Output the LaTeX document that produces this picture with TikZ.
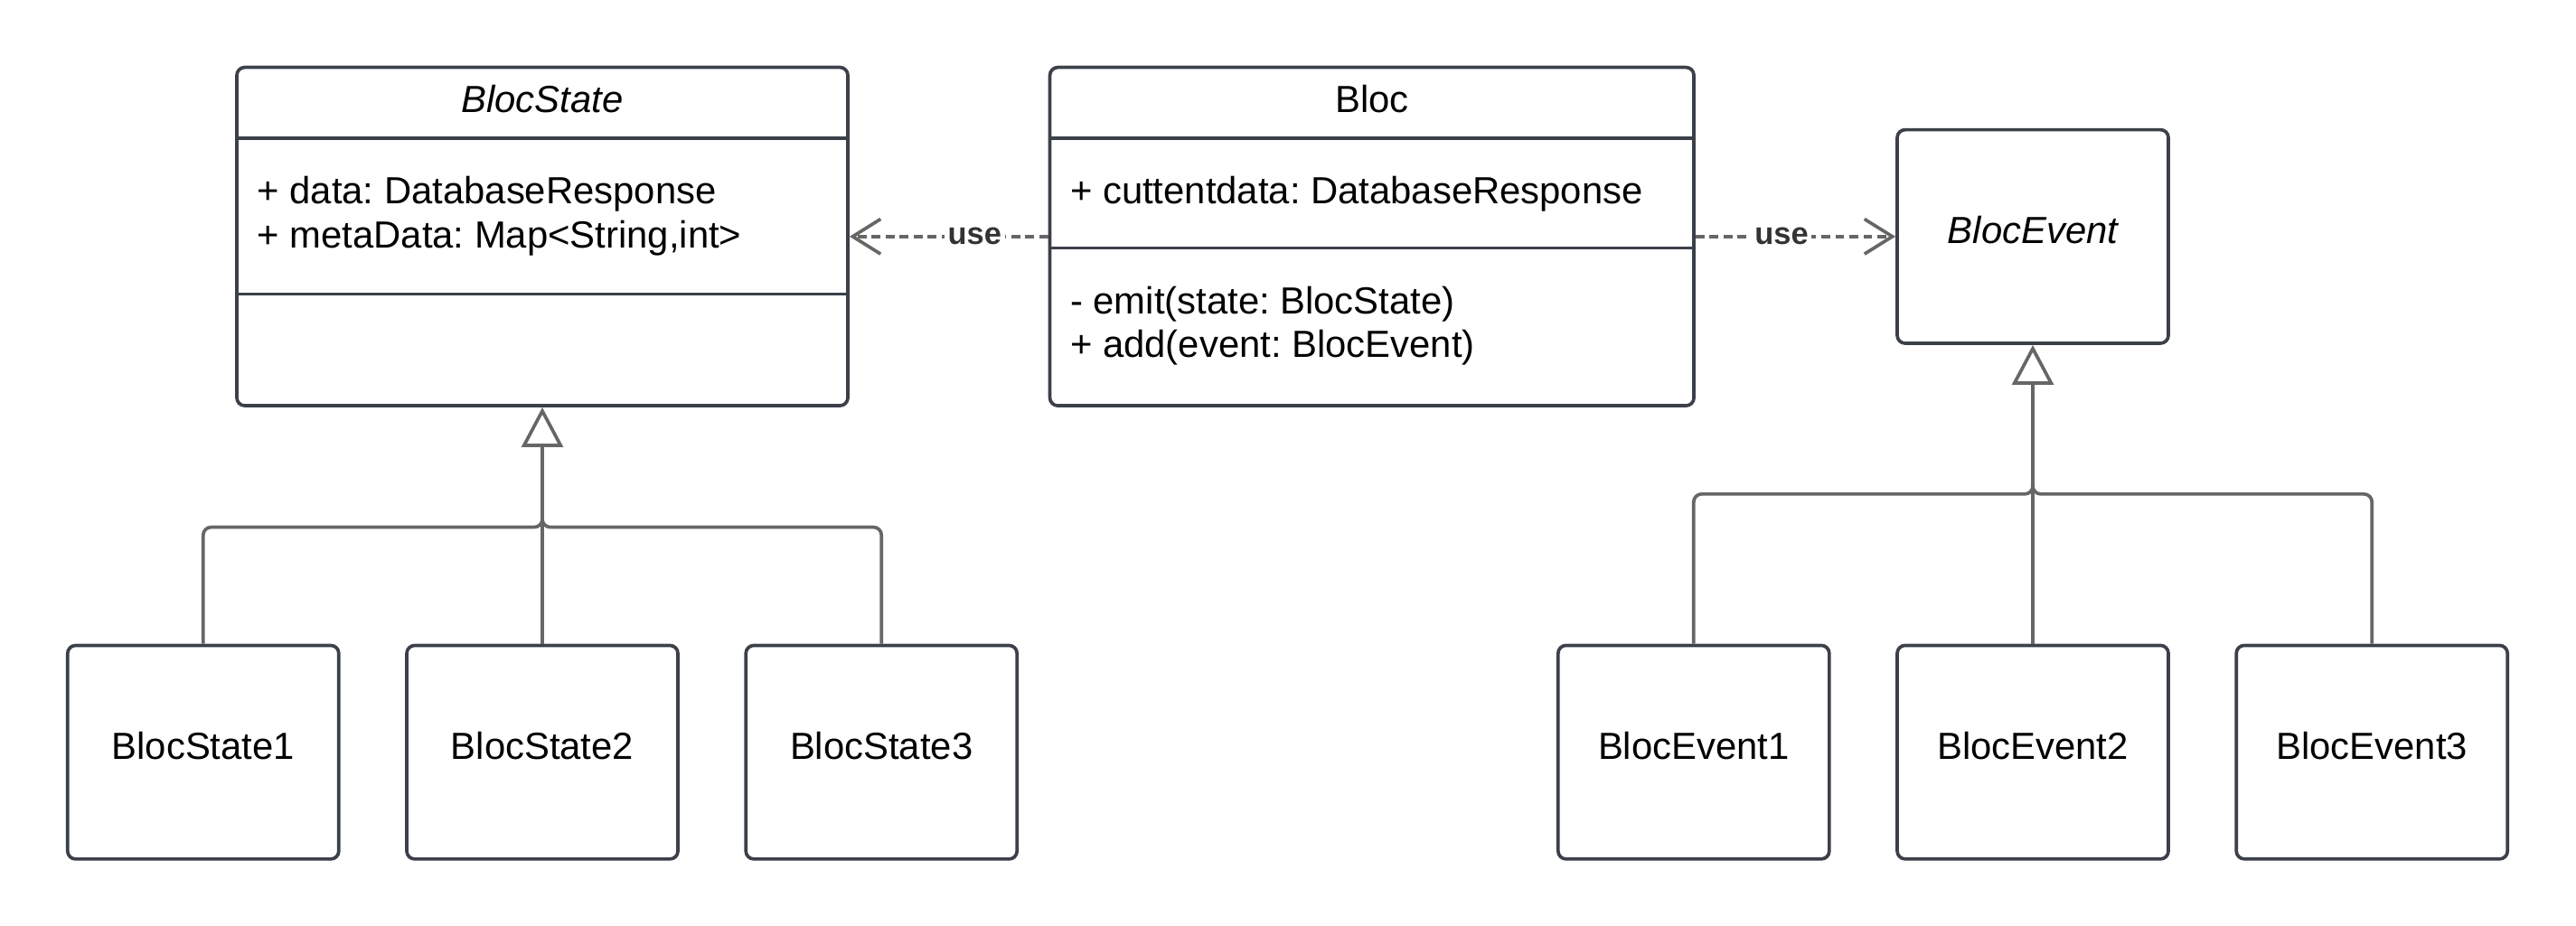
\documentclass[tikz,border=0pt]{standalone}
\usepackage{fontspec}
\setmainfont{Liberation Sans}
\usetikzlibrary{positioning,arrows.meta,calc}
\definecolor{boxline}{RGB}{59,64,73}
\definecolor{conn}{RGB}{102,102,102}
\newcommand{\umlfont}{\fontsize{11.9pt}{13.9pt}\selectfont}
\frenchspacing

\begin{document}
\begin{tikzpicture}[every node/.style={font=\umlfont},
	classbox/.style={draw=boxline, line width=1.05pt, rounded corners=2.5pt, inner sep=0pt},
	leaf/.style={classbox, minimum width=3cm, minimum height=2.364cm, text depth=4pt},
	divider/.style={draw=boxline, line width=1.05pt},
	gen/.style={draw=conn, line width=1.05pt, rounded corners=2.5pt},
	dep/.style={draw=conn, line width=1.05pt, dash pattern=on 2.8pt off 1.6pt, -{Straight Barb[length=8.8pt,width=11pt]}},
	usetag/.style={fill=white, inner sep=1pt, text=black!80, font=\fontsize{9.8pt}{11pt}\selectfont\bfseries}]
	\useasboundingbox (0,0) rectangle (28.5,-10.24);
	\node[classbox, minimum width=6.76cm, minimum height=3.745cm] (bs) at (6.0,-2.618) {};
	\node[classbox, minimum width=7.125cm, minimum height=3.745cm] (bloc) at (15.178,-2.618) {};
	\node[classbox, minimum width=3cm, minimum height=2.364cm, text depth=4pt, font=\umlfont\itshape] (be) at (22.49,-2.618) {BlocEvent};
	\draw[divider] ($(bs.north west)+(0,-0.8)$) -- ($(bs.north east)+(0,-0.8)$);
	\draw[divider] ($(bs.north west)+(0,-2.527)$) -- ($(bs.north east)+(0,-2.527)$);
	\draw[divider] ($(bloc.north west)+(0,-0.8)$) -- ($(bloc.north east)+(0,-0.8)$);
	\draw[divider] ($(bloc.north west)+(0,-2.018)$) -- ($(bloc.north east)+(0,-2.018)$);
	\node[font=\umlfont\itshape] (bsname) at ($(bs.north)+(0,-0.37)$) {BlocState};
	\node[align=left, anchor=west] (bsattr) at ($(bs.north west)+(0.12,-1.665)$) {+ data: DatabaseResponse\\+ metaData: Map<String,int>};
	\node (blocname) at ($(bloc.north)+(0,-0.37)$) {Bloc};
	\node[anchor=west] (blocattr) at ($(bloc.north west)+(0.12,-1.42)$) {+ cuttentdata: DatabaseResponse};
	\node[align=left, anchor=west] (blocops) at ($(bloc.north west)+(0.12,-2.88)$) {- emit(state: BlocState)\\+ add(event: BlocEvent)};
	\node[leaf, below=2.617cm of bs] (bs2) {BlocState2};
	\node[leaf, left=0.715cm of bs2] (bs1) {BlocState1};
	\node[leaf, right=0.715cm of bs2] (bs3) {BlocState3};
	\node[leaf, below=3.307cm of be] (be2) {BlocEvent2};
	\node[leaf, left=0.715cm of be2] (be1) {BlocEvent1};
	\node[leaf, right=0.715cm of be2] (be3) {BlocEvent3};
	\coordinate (jl) at ($(bs.south)+(0,-1.326)$);
	\coordinate (jlt) at ($(jl)+(0,0.4)$);
	\coordinate (jr) at ($(be.south)+(0,-1.65)$);
	\coordinate (jrt) at ($(jr)+(0,0.4)$);
	\foreach \c in {bs1,bs3} {\draw[gen] (\c.north) |- (jl) -- (jlt);}
	\foreach \c in {be1,be3} {\draw[gen] (\c.north) |- (jr) -- (jrt);}
	\draw[gen, -{Triangle[open,length=12.5pt,width=13pt]}] (bs2.north) -- (bs.south);
	\draw[gen, -{Triangle[open,length=12.5pt,width=13pt]}] (be2.north) -- (be.south);
	\draw[dep] (bloc.west) -- (bs.east) node[pos=0.37, usetag] (use1) {use};
	\draw[dep] (bloc.east) -- (be.west) node[pos=0.43, usetag] (use2) {use};
\end{tikzpicture}
\end{document}
